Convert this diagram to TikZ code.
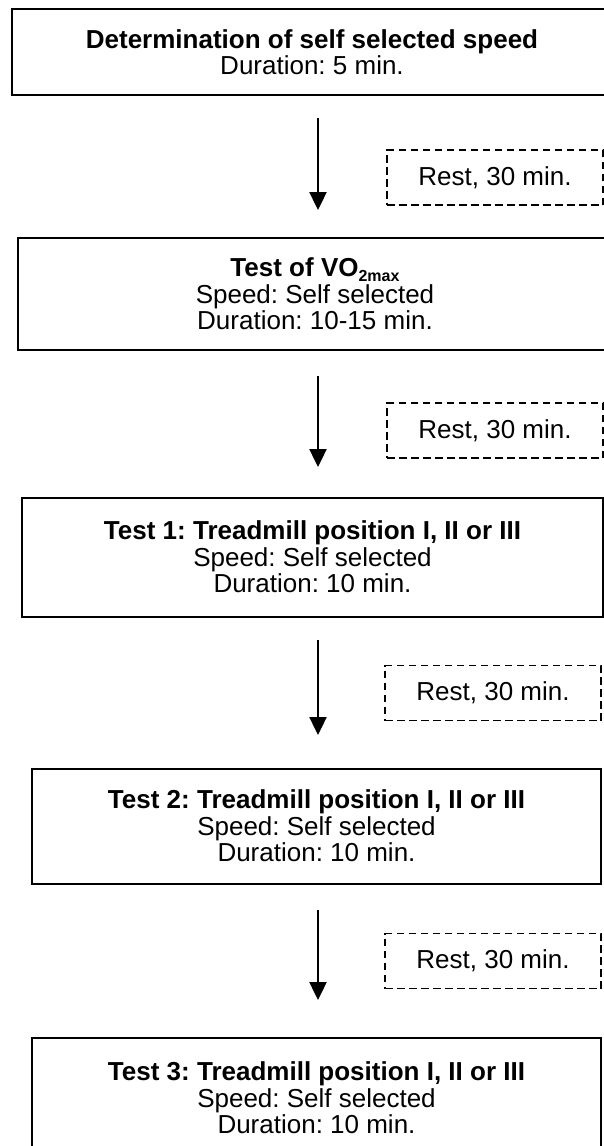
\documentclass[tikz,border=0pt]{standalone}
\usepackage{fontspec}
\setmainfont{Liberation Sans}
\frenchspacing
\usetikzlibrary{arrows.meta}
\tikzset{
  stagebox/.style={draw=black, line width=2pt, rectangle, inner sep=0pt, align=center,
    font=\fontsize{26}{26.5}\selectfont\frenchspacing},
  restbox/.style={draw=black, line width=1.5pt, dash pattern=on 7.5pt off 4.5pt, rectangle,
    inner sep=0pt, minimum width=216pt, minimum height=55pt,
    font=\fontsize{26}{26.5}\selectfont\frenchspacing},
  flowarrow/.style={line width=2.4pt, -{Triangle[width=17pt,length=18pt]}}
}
\begin{document}
\begin{tikzpicture}[x=1pt,y=-1pt]
\useasboundingbox (0,0) rectangle (604,1146);
\node[stagebox, minimum width=600pt, minimum height=86pt] (b1) at (312,52)
  {\textbf{Determination of self selected speed}\\Duration: 5 min.};
\node[stagebox, minimum width=594pt, minimum height=112pt] (b2) at (315,294)
  {\textbf{Test of VO\raisebox{-0.35ex}{\fontsize{16}{16}\selectfont 2max}}\\Speed: Self selected\\Duration: 10-15 min.};
\node[stagebox, minimum width=581pt, minimum height=119pt] (b3) at (312.5,557)
  {\textbf{Test 1: Treadmill position I, II or III}\\Speed: Self selected\\Duration: 10 min.};
\node[stagebox, minimum width=569pt, minimum height=115pt] (b4) at (316.5,826)
  {\textbf{Test 2: Treadmill position I, II or III}\\Speed: Self selected\\Duration: 10 min.};
\node[stagebox, minimum width=569pt, minimum height=120pt] (b5) at (316.5,1098)
  {\textbf{Test 3: Treadmill position I, II or III}\\Speed: Self selected\\Duration: 10 min.};

\node[restbox] (r1) at (495,177.5) {Rest, 30 min.};
\node[restbox] (r2) at (495,430.5) {Rest, 30 min.};
\node[restbox] (r3) at (493,693) {Rest, 30 min.};
\node[restbox] (r4) at (493,961) {Rest, 30 min.};

\coordinate (a1s) at (318,118); \coordinate (a1e) at (318,210);
\coordinate (a2s) at (318,376); \coordinate (a2e) at (318,467);
\coordinate (a3s) at (318,640); \coordinate (a3e) at (318,735);
\coordinate (a4s) at (318,910); \coordinate (a4e) at (318,1000);
\draw[flowarrow] (a1s) -- (a1e);
\draw[flowarrow] (a2s) -- (a2e);
\draw[flowarrow] (a3s) -- (a3e);
\draw[flowarrow] (a4s) -- (a4e);
\end{tikzpicture}
\end{document}
